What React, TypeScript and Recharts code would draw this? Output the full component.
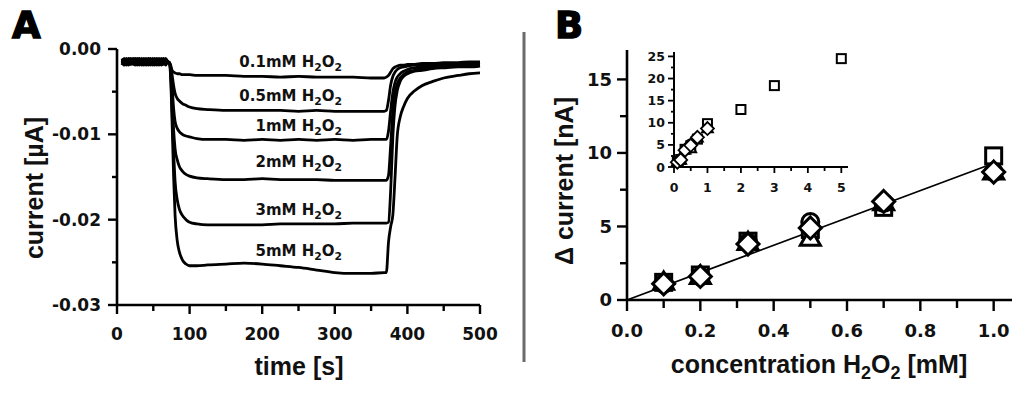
import React from 'react';
import { LineChart, Line, XAxis, YAxis, ReferenceDot, ScatterChart, Scatter } from 'recharts';

// panel A: amperometric traces, current in µA vs time in s
const timeS = [
  7, 10, 13, 16, 19, 22, 25, 28, 31, 34, 37, 40, 43, 46, 49, 52, 55, 58, 61, 64, 67, 70,
  72, 74, 76, 78, 80, 83, 86, 90, 95, 100,
  110, 125, 150, 175, 200, 225, 250, 275, 300, 325, 350, 368,
  371, 374, 377, 380, 383, 386, 390, 395, 400,
  410, 420, 435, 450, 470, 485, 500,
];

const trace01 = [
  -0.0012, -0.0018, -0.0013, -0.0017, -0.0011, -0.0016, -0.0019, -0.0012, -0.0017, -0.0013, -0.0018,
  -0.0011, -0.0016, -0.0014, -0.0019, -0.0012, -0.0017, -0.0013, -0.0018, -0.0012, -0.0016, -0.0015,
  -0.0016, -0.0021, -0.0025, -0.0027, -0.0028, -0.0029, -0.0029, -0.003, -0.003, -0.003,
  -0.0031, -0.0031, -0.0031, -0.0032, -0.0032, -0.0033, -0.0032, -0.0033, -0.0033, -0.0033, -0.0034, -0.0034,
  -0.0033, -0.0031, -0.0027, -0.0023, -0.0021, -0.002, -0.0019, -0.0019, -0.0018,
  -0.0018, -0.0017, -0.0017, -0.0016, -0.0016, -0.0015, -0.0015,
];
const trace05 = [
  -0.0017, -0.0011, -0.0016, -0.0012, -0.0018, -0.0013, -0.0011, -0.0017, -0.0012, -0.0019, -0.0013,
  -0.0017, -0.0012, -0.0018, -0.0011, -0.0016, -0.0012, -0.0018, -0.0013, -0.0017, -0.0012, -0.0015,
  -0.0016, -0.0019, -0.0031, -0.0043, -0.0052, -0.0058, -0.0061, -0.0064, -0.0066, -0.0068,
  -0.007, -0.0071, -0.0072, -0.0072, -0.0072, -0.0072, -0.0073, -0.0072, -0.0073, -0.0073, -0.0073, -0.0073,
  -0.0072, -0.006, -0.0042, -0.0032, -0.0027, -0.0024, -0.0022, -0.0021, -0.002,
  -0.0019, -0.0019, -0.0018, -0.0018, -0.0017, -0.0017, -0.0016,
];
const trace1 = [
  -0.0014, -0.0019, -0.0011, -0.0015, -0.0018, -0.0012, -0.0016, -0.0019, -0.0013, -0.0016, -0.0011,
  -0.0018, -0.0014, -0.0011, -0.0017, -0.0019, -0.0013, -0.0016, -0.0011, -0.0018, -0.0014, -0.0015,
  -0.0016, -0.0021, -0.0045, -0.007, -0.0085, -0.0093, -0.0097, -0.01, -0.0102, -0.0103,
  -0.0105, -0.0106, -0.0106, -0.0107, -0.0106, -0.0107, -0.0106, -0.0107, -0.0106, -0.0107, -0.0106, -0.0106,
  -0.0106, -0.0096, -0.0072, -0.0051, -0.0039, -0.0033, -0.0029, -0.0026, -0.0024,
  -0.0022, -0.0021, -0.002, -0.0019, -0.0019, -0.0018, -0.0018,
];
const trace2 = [
  -0.0019, -0.0013, -0.0017, -0.0011, -0.0014, -0.0018, -0.0012, -0.0015, -0.0019, -0.0011, -0.0016,
  -0.0013, -0.0019, -0.0016, -0.0012, -0.0014, -0.0019, -0.0011, -0.0016, -0.0013, -0.0018, -0.0015,
  -0.0016, -0.0026, -0.006, -0.0095, -0.0117, -0.013, -0.0138, -0.0143, -0.0147, -0.0149,
  -0.0151, -0.0152, -0.0153, -0.0153, -0.0152, -0.0153, -0.0153, -0.0153, -0.0154, -0.0154, -0.0154, -0.0154,
  -0.0154, -0.0148, -0.0112, -0.0072, -0.0051, -0.0041, -0.0034, -0.003, -0.0027,
  -0.0025, -0.0023, -0.0022, -0.0021, -0.002, -0.002, -0.0019,
];
const trace3 = [
  -0.0011, -0.0016, -0.0019, -0.0013, -0.0016, -0.0011, -0.0018, -0.0013, -0.0011, -0.0017, -0.0019,
  -0.0014, -0.0011, -0.0019, -0.0014, -0.0011, -0.0015, -0.0019, -0.0014, -0.0011, -0.0019, -0.0015,
  -0.0016, -0.003, -0.0075, -0.012, -0.0155, -0.0177, -0.0188, -0.0195, -0.02, -0.0203,
  -0.0205, -0.0206, -0.0206, -0.0206, -0.0206, -0.0205, -0.0205, -0.0205, -0.0205, -0.0204, -0.0204, -0.0204,
  -0.0204, -0.0203, -0.0165, -0.0102, -0.0066, -0.0049, -0.0038, -0.0032, -0.0029,
  -0.0026, -0.0025, -0.0023, -0.0022, -0.0021, -0.0021, -0.002,
];
const trace5 = [
  -0.0016, -0.0012, -0.0014, -0.0019, -0.0012, -0.0017, -0.0014, -0.0011, -0.0016, -0.0014, -0.0012,
  -0.0019, -0.0017, -0.0012, -0.0016, -0.0018, -0.0011, -0.0014, -0.0019, -0.0016, -0.0011, -0.0015,
  -0.0016, -0.0036, -0.009, -0.015, -0.0195, -0.0225, -0.0238, -0.0247, -0.0252, -0.0254,
  -0.0254, -0.0253, -0.0252, -0.0251, -0.0252, -0.0254, -0.0256, -0.0259, -0.0262, -0.0263, -0.0263, -0.0262,
  -0.0262, -0.0226, -0.0208, -0.0194, -0.015, -0.0102, -0.008, -0.0067, -0.0058,
  -0.0049, -0.0043, -0.0038, -0.0034, -0.0031, -0.0029, -0.0028,
];

const traceKeys = ['c01', 'c05', 'c1', 'c2', 'c3', 'c5'];
const traceNames = ['0.1mM', '0.5mM', '1mM', '2mM', '3mM', '5mM'];
// where each trace label sits (time, current) - right end of text
const labelTime = 310;
const labelLevels = [-0.00207, -0.00607, -0.0096, -0.0138, -0.0194, -0.0243];

const ticksTimeA = [0, 50, 100, 150, 200, 250, 300, 350, 400, 450, 500];
const ticksCurrentA = [-0.03, -0.025, -0.02, -0.015, -0.01, -0.005, 0];

// panel B: calibration, delta current in nA vs concentration in mM
const concB = [0.1, 0.2, 0.33, 0.5, 0.7, 1.0];
const squareB = [1.2, 1.7, 4.0, 4.8, 6.3, 9.8];
const triangleB = [1.2, 1.6, 3.9, 4.2, 6.6, 8.7];
const circleB = [1.1, 1.6, 3.9, 5.3, 6.6, 8.7];
const diamondB = [1.1, 1.6, 3.8, 4.9, 6.7, 8.7];
const concHigh = [2, 3, 5];
const squareHigh = [13.0, 18.4, 24.5];
const fitConc = [0, 1.0];
const fitDelta = [0, 9.3];

const ticksConcB = [0, 0.1, 0.2, 0.3, 0.4, 0.5, 0.6, 0.7, 0.8, 0.9, 1.0];
const ticksDeltaB = [0, 2.5, 5, 7.5, 10, 12.5, 15];
const ticksConcInset = [0, 0.5, 1, 1.5, 2, 2.5, 3, 3.5, 4, 4.5, 5];
const ticksDeltaInset = [0, 2.5, 5, 7.5, 10, 12.5, 15, 17.5, 20, 22.5, 25];

const TICK_FONT = '"DejaVu Sans", sans-serif';
const TITLE_FONT = '"Liberation Sans", Arial, sans-serif';

const rowsA = timeS.map((t, i) => ({
  t,
  c01: trace01[i],
  c05: trace05[i],
  c1: trace1[i],
  c2: trace2[i],
  c3: trace3[i],
  c5: trace5[i],
}));

const toRows = (xs: number[], ys: number[]) => xs.map((x, i) => ({ x, y: ys[i] }));

type TickOpts = {
  side: 'left' | 'bottom';
  major: number;
  long: number;
  short: number;
  gap: number;
  size: number;
  width: number;
  fmt: (v: number) => string;
};

const makeTick = (o: TickOpts) => (props: any) => {
  const { x, y, payload } = props;
  const v = payload.value as number;
  const isMajor = Math.abs(v / o.major - Math.round(v / o.major)) < 1e-6;
  const len = isMajor ? o.long : o.short;
  const label = isMajor ? o.fmt(v) : '';
  if (o.side === 'left') {
    return (
      <g>
        <line x1={x - len} x2={x} y1={y} y2={y} stroke="#000" strokeWidth={o.width} />
        <text x={x - o.gap} y={y} dy="0.36em" textAnchor="end" fontFamily={TICK_FONT} fontWeight="bold" fontSize={o.size} fill="#111">
          {label}
        </text>
      </g>
    );
  }
  return (
    <g>
      <line x1={x} x2={x} y1={y} y2={y + len} stroke="#000" strokeWidth={o.width} />
      <text x={x} y={y + o.gap} dy="0.36em" textAnchor="middle" fontFamily={TICK_FONT} fontWeight="bold" fontSize={o.size} fill="#111">
        {label}
      </text>
    </g>
  );
};

const Sub = ({ children, d }: { children: React.ReactNode; d: number }) => (
  <tspan dy={d} fontSize="0.72em">
    {children}
  </tspan>
);

const TraceLabel = (p: any) => {
  const i = p.idx as number;
  return (
    <text x={p.cx} y={p.cy} textAnchor="end" fontFamily={TICK_FONT} fontWeight="bold" fontSize={15} fill="#111">
      {traceNames[i] + ' H'}
      <Sub d={4}>2</Sub>
      <tspan dy={-4}>O</tspan>
      <Sub d={4}>2</Sub>
    </text>
  );
};

const openSquare = (s: number, w: number) => (p: any) =>
  <rect x={p.cx - s / 2} y={p.cy - s / 2} width={s} height={s} fill="#fff" stroke="#000" strokeWidth={w} />;
const openCircle = (r: number, w: number) => (p: any) =>
  <circle cx={p.cx} cy={p.cy} r={r} fill="#fff" stroke="#000" strokeWidth={w} />;
const openTriangle = (s: number, w: number) => (p: any) => {
  const h = s * 0.866;
  return (
    <polygon
      points={`${p.cx},${p.cy - h * 0.6} ${p.cx + s / 2},${p.cy + h * 0.4} ${p.cx - s / 2},${p.cy + h * 0.4}`}
      fill="#fff" stroke="#000" strokeWidth={w} strokeLinejoin="miter"
    />
  );
};
const openDiamond = (d: number, w: number) => (p: any) =>
  <polygon
    points={`${p.cx},${p.cy - d} ${p.cx + d},${p.cy} ${p.cx},${p.cy + d} ${p.cx - d},${p.cy}`}
    fill="#fff" stroke="#000" strokeWidth={w}
  />;

const axisStyle = { stroke: '#000', strokeWidth: 2.6 };

const PanelA = () => (
  <LineChart width={1024} height={399} data={rowsA} margin={{ top: 49, right: 544, bottom: 64, left: 57 }}>
    <XAxis
      dataKey="t" type="number" domain={[0, 500]} ticks={ticksTimeA} interval={0}
      axisLine={axisStyle} tickLine={false} tickSize={0} tickMargin={0}
      tick={makeTick({ side: 'bottom', major: 100, long: 9, short: 6, gap: 29, size: 17, width: 2.4, fmt: (v) => String(v) })}
    />
    <YAxis
      type="number" domain={[-0.03, 0]} ticks={ticksCurrentA} interval={0} width={60}
      axisLine={axisStyle} tickLine={false} tickSize={0} tickMargin={0}
      tick={makeTick({ side: 'left', major: 0.01, long: 9, short: 5, gap: 16, size: 17, width: 2.4, fmt: (v) => Math.abs(v) < 1e-9 ? '0.00' : v.toFixed(2) })}
    />
    {traceKeys.map((k) => (
      <Line key={k} dataKey={k} type="monotone" stroke="#000" strokeWidth={2.8} dot={false} isAnimationActive={false} />
    ))}
    {labelLevels.map((lv, i) => (
      <ReferenceDot key={i} x={labelTime} y={lv} r={0} shape={(p: any) => <TraceLabel {...p} idx={i} />} />
    ))}
  </LineChart>
);

const PanelB = () => (
  <ScatterChart width={1024} height={399} margin={{ top: 50, right: 12, bottom: 69, left: 567 }}>
    <XAxis
      dataKey="x" type="number" domain={[0, 1.05]} ticks={ticksConcB} interval={0}
      axisLine={axisStyle} tickLine={false} tickSize={0} tickMargin={0}
      tick={makeTick({ side: 'bottom', major: 0.2, long: 11, short: 8, gap: 31, size: 18, width: 2.4, fmt: (v) => v.toFixed(1) })}
    />
    <YAxis
      dataKey="y" type="number" domain={[0, 17]} ticks={ticksDeltaB} interval={0} width={60}
      axisLine={axisStyle} tickLine={false} tickSize={0} tickMargin={0}
      tick={makeTick({ side: 'left', major: 5, long: 10, short: 7, gap: 15, size: 18, width: 2.4, fmt: (v) => String(v) })}
    />
    <Scatter data={toRows(fitConc, fitDelta)} dataKey="y" line={{ stroke: '#000', strokeWidth: 1.8 }} shape={() => <g />} isAnimationActive={false} />
    <Scatter data={toRows(concB, squareB)} dataKey="y" shape={openSquare(16, 3)} isAnimationActive={false} />
    <Scatter data={toRows(concB, triangleB)} dataKey="y" shape={openTriangle(20, 3)} isAnimationActive={false} />
    <Scatter data={toRows(concB, circleB)} dataKey="y" shape={openCircle(8.5, 3)} isAnimationActive={false} />
    <Scatter data={toRows(concB, diamondB)} dataKey="y" shape={openDiamond(11, 3)} isAnimationActive={false} />
  </ScatterChart>
);

const Inset = () => (
  <ScatterChart width={1024} height={399} margin={{ top: 52, right: 176, bottom: 202, left: 614 }}>
    <XAxis
      dataKey="x" type="number" domain={[0, 5.2]} ticks={ticksConcInset} interval={0}
      axisLine={{ stroke: '#000', strokeWidth: 2 }} tickLine={false} tickSize={0} tickMargin={0}
      tick={makeTick({ side: 'bottom', major: 1, long: 6, short: 4, gap: 20, size: 12.5, width: 1.8, fmt: (v) => String(v) })}
    />
    <YAxis
      dataKey="y" type="number" domain={[0, 26]} ticks={ticksDeltaInset} interval={0} width={60}
      axisLine={{ stroke: '#000', strokeWidth: 2 }} tickLine={false} tickSize={0} tickMargin={0}
      tick={makeTick({ side: 'left', major: 5, long: 6, short: 3, gap: 9, size: 12.5, width: 1.8, fmt: (v) => String(v) })}
    />
    <Scatter data={toRows(concB.concat(concHigh), squareB.concat(squareHigh))} dataKey="y" shape={openSquare(9, 2)} isAnimationActive={false} />
    <Scatter data={toRows(concB, triangleB)} dataKey="y" shape={openTriangle(11, 1.8)} isAnimationActive={false} />
    <Scatter data={toRows(concB, circleB)} dataKey="y" shape={openCircle(4.5, 1.8)} isAnimationActive={false} />
    <Scatter data={toRows(concB, diamondB)} dataKey="y" shape={openDiamond(6.5, 1.8)} isAnimationActive={false} />
  </ScatterChart>
);

const Overlay = () => (
  <svg width={1024} height={399} style={{ position: 'absolute', left: 0, top: 0, pointerEvents: 'none' }}>
    <text x={12} y={38} fontFamily={TICK_FONT} fontWeight="bold" fontSize={37} fill="#000" stroke="#000" strokeWidth={1.4}>A</text>
    <text x={555} y={38} fontFamily={TICK_FONT} fontWeight="bold" fontSize={37} fill="#000" stroke="#000" strokeWidth={1.4}>B</text>
    <line x1={524} x2={524} y1={32} y2={362} stroke="#6b6b6b" strokeWidth={3} />
    <text x={299} y={375} textAnchor="middle" fontFamily={TITLE_FONT} fontWeight="bold" fontSize={25} fill="#111">time [s]</text>
    <text transform="translate(43,188) rotate(-90)" textAnchor="middle" fontFamily={TITLE_FONT} fontWeight="bold" fontSize={25} fill="#111">current [µA]</text>
    <text x={819} y={373} textAnchor="middle" fontFamily={TITLE_FONT} fontWeight="bold" fontSize={25} fill="#111">
      {'concentration H'}
      <Sub d={6}>2</Sub>
      <tspan dy={-6}>O</tspan>
      <Sub d={6}>2</Sub>
      <tspan dy={-6}>{' [mM]'}</tspan>
    </text>
    <text transform="translate(573,181) rotate(-90)" textAnchor="middle" fontFamily={TITLE_FONT} fontWeight="bold" fontSize={25} fill="#111">
      {'Δ current [nA]'}
    </text>
  </svg>
);

export default function App() {
  return (
    <div style={{ position: 'absolute', left: 0, top: 0, width: 1024, height: 399, background: '#fff' }}>
      <div style={{ position: 'absolute', left: 0, top: 0 }}><PanelA /></div>
      <div style={{ position: 'absolute', left: 0, top: 0 }}><PanelB /></div>
      <div style={{ position: 'absolute', left: 0, top: 0 }}><Inset /></div>
      <Overlay />
    </div>
  );
}
